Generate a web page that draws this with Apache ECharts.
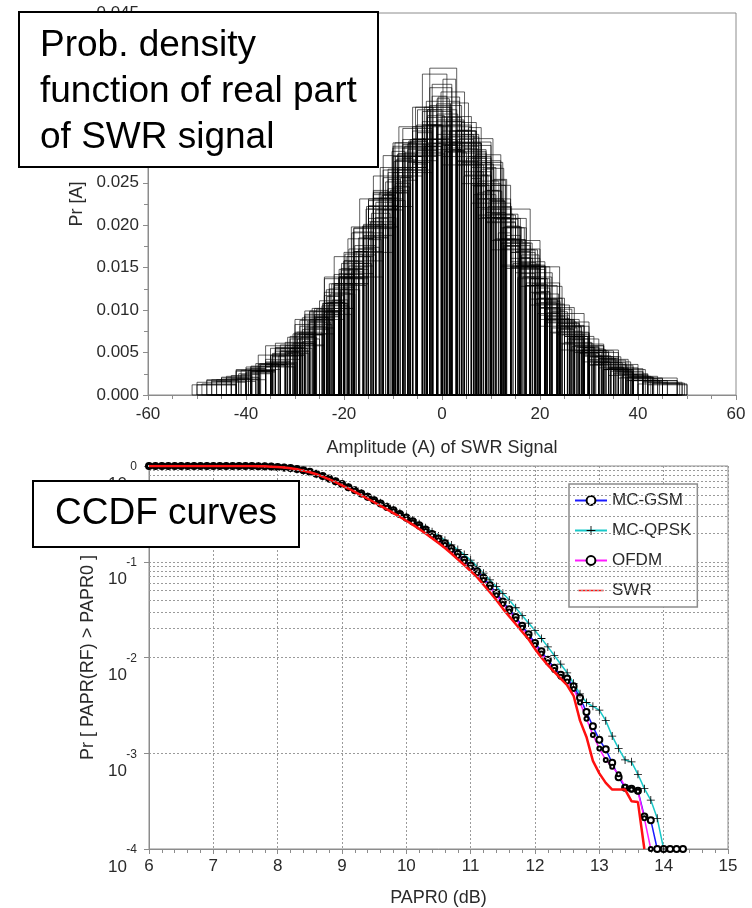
<!DOCTYPE html>
<html>
<head>
<meta charset="utf-8">
<script src="https://cdn.jsdelivr.net/npm/echarts@6/dist/echarts.min.js"></script>
<style>
  html, body { margin: 0; padding: 0; background: #fff; }
  #chart { width: 752px; height: 908px; }
</style>
</head>
<body>
<div id="chart"></div>
<script>
// ---------- Histograms of the real part of the SWR signal ----------
// Each histogram: first bin edge, bin width, bar heights (density).
const binStarts = [-46, -50, -40, -44, -36, -42, -48, -34, -51, -38, -30, -45, -26, -47, -28, -41, -33, -20, -50, -37,
                   -43, -39, -32, -49, -24, -45, -35, -37.5, -47, -29, -41, -48,
                   -36, -27, -44, -31, -40, -22, -46, -35];
const binWidths = [6, 8, 4, 5, 7, 3, 6.5, 4.5, 9, 3.5, 5.5, 7.5, 2.5, 4, 8, 5, 6, 3, 10, 5.5,
                   4.2, 6, 3.2, 7, 2, 5.5, 8.5, 2.8, 9.5, 4.8, 3.8, 12,
                   4.4, 3.6, 6.8, 2.6, 5.2, 4, 8, 3];
const binHeights = [
  [0.0018,0.0027,0.0056,0.0079,0.0142,0.0188,0.0281,0.0334,0.0297,0.0209,0.0161,0.0094,0.0066,0.0032,0.0022],
  [0.0012,0.0029,0.0061,0.0102,0.0196,0.0262,0.0318,0.0226,0.0151,0.0074,0.0042,0.0017],
  [0.0031,0.0036,0.0062,0.0071,0.0117,0.0138,0.0199,0.0222,0.0291,0.0318,0.0289,0.0297,0.0219,0.0179,0.0154,0.0102,0.0084,0.0049,0.0043,0.0024],
  [0.0022,0.0028,0.0053,0.0071,0.0121,0.0152,0.0232,0.0258,0.0378,0.0291,0.0268,0.0184,0.0148,0.0090,0.0069,0.0038,0.0028,0.0015],
  [0.0042,0.0088,0.0131,0.0231,0.0301,0.0316,0.0247,0.0149,0.0103,0.0050,0.0031],
  [0.0019,0.0031,0.0034,0.0055,0.0058,0.0089,0.0097,0.0139,0.0151,0.0204,0.0218,0.0279,0.0272,0.0336,0.0295,0.0312,0.0249,0.0241,0.0184,0.0169,0.0121,0.0112,0.0077,0.0069,0.0045,0.0040,0.0026,0.0024],
  [0.0017,0.0025,0.0046,0.0091,0.0129,0.0219,0.0265,0.0341,0.0272,0.0183,0.0129,0.0071,0.0045,0.0021,0.0014],
  [0.0051,0.0066,0.0111,0.0137,0.0201,0.0251,0.0274,0.0362,0.0305,0.0236,0.0207,0.0139,0.0114,0.0071,0.0053,0.0031],
  [0.0012,0.0030,0.0059,0.0137,0.0222,0.0301,0.0276,0.0153,0.0086,0.0035,0.0017],
  [0.0028,0.0048,0.0055,0.0087,0.0099,0.0147,0.0165,0.0227,0.0245,0.0301,0.0329,0.0287,0.0293,0.0231,0.0213,0.0155,0.0137,0.0093,0.0080,0.0050,0.0043,0.0027],
  [0.0074,0.0105,0.0172,0.0218,0.0295,0.0385,0.0271,0.0231,0.0150,0.0114,0.0062,0.0045],
  [0.0021,0.0036,0.0083,0.0131,0.0229,0.0286,0.0304,0.0212,0.0144,0.0073,0.0041,0.0019],
  [0.0093,0.0099,0.0138,0.0145,0.0187,0.0199,0.0254,0.0256,0.0302,0.0293,0.0349,0.0296,0.0307,0.0246,0.0241,0.0191,0.0181,0.0139,0.0130,0.0097,0.0089,0.0065],
  [0.0016,0.0019,0.0033,0.0040,0.0066,0.0079,0.0125,0.0148,0.0208,0.0239,0.0296,0.0327,0.0286,0.0279,0.0215,0.0183,0.0129,0.0107,0.0069,0.0055,0.0033,0.0027,0.0016,0.0013],
  [0.0099,0.0158,0.0265,0.0322,0.0249,0.0172,0.0089,0.0050],
  [0.0029,0.0039,0.0069,0.0092,0.0148,0.0185,0.0266,0.0316,0.0298,0.0285,0.0209,0.0168,0.0108,0.0081,0.0046,0.0033,0.0019],
  [0.0052,0.0099,0.0139,0.0223,0.0268,0.0336,0.0287,0.0203,0.0151,0.0089,0.0058,0.0030],
  [0.0131,0.0172,0.0186,0.0243,0.0253,0.0314,0.0301,0.0327,0.0274,0.0263,0.0209,0.0188,0.0143,0.0126],
  [0.0015,0.0033,0.0089,0.0168,0.0293,0.0281,0.0182,0.0081,0.0036,0.0013],
  [0.0036,0.0068,0.0095,0.0155,0.0201,0.0281,0.0302,0.0311,0.0231,0.0176,0.0113,0.0082,0.0046,0.0032],
  [0.0023,0.0028,0.0049,0.0061,0.0098,0.0119,0.0176,0.0209,0.0277,0.0288,0.0331,0.0275,0.0252,0.0183,0.0152,0.0103,0.0081,0.0050,0.0038,0.0024],
  [0.0034,0.0051,0.0098,0.0139,0.0219,0.0268,0.0297,0.0289,0.0204,0.0152,0.0088,0.0058,0.0030,0.0020],
  [0.0058,0.0068,0.0101,0.0112,0.0157,0.0174,0.0232,0.0249,0.0299,0.0318,0.0294,0.0301,0.0247,0.0229,0.0175,0.0156,0.0113,0.0098,0.0069,0.0056],
  [0.0013,0.0028,0.0047,0.0093,0.0143,0.0238,0.0289,0.0311,0.0221,0.0157,0.0085,0.0052,0.0025,0.0015],
  [0.0108,0.0111,0.0142,0.0149,0.0184,0.0191,0.0236,0.0238,0.0279,0.0274,0.0318,0.0296,0.0328,0.0289,0.0297,0.0255,0.0259,0.0214,0.0208,0.0168,0.0162,0.0129,0.0122,0.0096],
  [0.0020,0.0029,0.0055,0.0077,0.0131,0.0169,0.0256,0.0281,0.0324,0.0258,0.0213,0.0137,0.0101,0.0057,0.0038,0.0021,0.0014],
  [0.0055,0.0102,0.0197,0.0276,0.0307,0.0208,0.0128,0.0060,0.0030],
  [0.0029,0.0045,0.0050,0.0073,0.0081,0.0116,0.0124,0.0169,0.0183,0.0235,0.0246,0.0297,0.0291,0.0343,0.0288,0.0290,0.0238,0.0228,0.0176,0.0161,0.0120,0.0110,0.0078,0.0069,0.0047,0.0042,0.0028],
  [0.0018,0.0047,0.0095,0.0198,0.0284,0.0294,0.0171,0.0096,0.0039,0.0017],
  [0.0081,0.0108,0.0163,0.0204,0.0275,0.0293,0.0357,0.0259,0.0222,0.0152,0.0119,0.0075,0.0053],
  [0.0024,0.0037,0.0046,0.0074,0.0089,0.0131,0.0155,0.0214,0.0241,0.0299,0.0296,0.0322,0.0263,0.0240,0.0179,0.0153,0.0107,0.0086,0.0056,0.0045,0.0029,0.0022],
  [0.0018,0.0058,0.0139,0.0282,0.0271,0.0151,0.0053,0.0020],
  [0.0038,0.0049,0.0086,0.0119,0.0191,0.0236,0.0297,0.0318,0.0351,0.0296,0.0274,0.0197,0.0151,0.0092,0.0066,0.0039,0.0028],
  [0.0085,0.0109,0.0166,0.0199,0.0268,0.0284,0.0339,0.0317,0.0344,0.0281,0.0267,0.0198,0.0165,0.0109,0.0084],
  [0.0020,0.0034,0.0072,0.0124,0.0231,0.0291,0.0346,0.0302,0.0208,0.0132,0.0061,0.0036,0.0017],
  [0.0055,0.0063,0.0091,0.0106,0.0149,0.0169,0.0222,0.0238,0.0287,0.0293,0.0336,0.0318,0.0372,0.0311,0.0315,0.0266,0.0254,0.0199,0.0179,0.0131,0.0112,0.0079,0.0068,0.0048],
  [0.0026,0.0038,0.0071,0.0108,0.0184,0.0239,0.0316,0.0339,0.0311,0.0283,0.0197,0.0139,0.0079,0.0052,0.0030,0.0021],
  [0.0127,0.0192,0.0231,0.0297,0.0311,0.0366,0.0328,0.0279,0.0247,0.0179,0.0137],
  [0.0016,0.0037,0.0072,0.0163,0.0258,0.0339,0.0298,0.0219,0.0106,0.0052,0.0023,0.0012],
  [0.0035,0.0051,0.0061,0.0091,0.0109,0.0158,0.0185,0.0241,0.0262,0.0314,0.0309,0.0352,0.0318,0.0321,0.0274,0.0253,0.0198,0.0171,0.0121,0.0099,0.0069,0.0056,0.0039,0.0032]
];

// ---------- CCDF of PAPR ----------
const paprDb = [
  6.0,6.1,6.2,6.3,6.4,6.5,6.6,6.7,6.8,6.9,
  7.0,7.1,7.2,7.3,7.4,7.5,7.6,7.7,7.8,7.9,
  8.0,8.1,8.2,8.3,8.4,8.5,8.6,8.7,8.8,8.9,
  9.0,9.1,9.2,9.3,9.4,9.5,9.6,9.7,9.8,9.9,
  10.0,10.1,10.2,10.3,10.4,10.5,10.6,10.7,10.8,10.9,
  11.0,11.1,11.2,11.3,11.4,11.5,11.6,11.7,11.8,11.9,
  12.0,12.1,12.2,12.3,12.4,12.5,12.6,12.7,12.8,12.9,
  13.0,13.1,13.2,13.3,13.4,13.5,13.6,13.7,13.8,13.9,
  14.0,14.1,14.2,14.3
];
const ccdfMcGsm = [
  1,1,1,1,1,1,1,1,1,1,1,1,1,1,1,1,1, 0.996,0.992,0.986,
  0.978,0.967,0.952,0.931,0.903,0.871,0.832,0.787,0.740,0.694,
  0.647,0.601,0.557,0.515,0.476,0.440,0.406,0.374,0.344,0.316,
  0.290,0.265,0.240,0.217,0.195,0.175,0.156,0.138,0.121,0.105,
  0.0915,0.0795,0.0680,0.0568,0.0473,0.0385,0.0320,0.0265,0.0215,0.0175,
  0.0142,0.0116,0.00945,0.00780,0.00660,0.00603,0.00501,0.00380,0.00269,0.00191,
  0.00138,0.00110,0.000794,0.000562,0.000437,0.000427,0.000407,0.000219,0.000200,0.0001,
  0.0001,0.0001,0.0001,0.0001
];
const ccdfMcQpsk = [
  1,1,1,1,1,1,1,1,1,1,1,1,1,1,1,1,1, 0.995,0.990,0.983,
  0.973,0.961,0.944,0.922,0.892,0.860,0.822,0.778,0.733,0.689,
  0.644,0.600,0.558,0.518,0.480,0.445,0.412,0.381,0.352,0.324,
  0.298,0.273,0.249,0.227,0.206,0.186,0.168,0.150,0.134,0.119,
  0.104,0.0891,0.0759,0.0646,0.0550,0.0468,0.0398,0.0331,0.0275,0.0229,
  0.0191,0.0158,0.0129,0.0105,0.00851,0.00692,0.00537,0.00417,0.00339,0.00309,
  0.00282,0.00219,0.00151,0.00112,0.000851,0.000813,0.000603,0.000427,0.000324,0.000209,
  0.0001
];
const ccdfOfdm = [
  1,1,1,1,1,1,1,1,1,1,1,1,1,1,1,1,1, 0.995,0.991,0.984,
  0.975,0.964,0.948,0.927,0.897,0.865,0.826,0.780,0.733,0.687,
  0.640,0.594,0.550,0.507,0.468,0.432,0.398,0.366,0.336,0.308,
  0.282,0.257,0.232,0.209,0.188,0.168,0.150,0.132,0.115,0.100,
  0.0871,0.0759,0.0646,0.0537,0.0447,0.0363,0.0302,0.0251,0.0204,0.0166,
  0.0135,0.0110,0.00891,0.00741,0.00631,0.00562,0.00468,0.00339,0.00229,0.00155,
  0.00112,0.000851,0.000724,0.000603,0.000447,0.000417,0.000398,0.000209,0.0001
];
const ccdfSwr = [
  1,1,1,1,1,1,1,1,1,1,1,1,1,1,1,1,1, 0.996,0.992,0.985,
  0.976,0.964,0.947,0.925,0.894,0.860,0.820,0.773,0.724,0.677,
  0.628,0.582,0.537,0.494,0.455,0.418,0.384,0.352,0.322,0.294,
  0.268,0.244,0.220,0.197,0.176,0.157,0.139,0.122,0.106,0.0925,
  0.0800,0.0690,0.0575,0.0480,0.0398,0.0324,0.0269,0.0224,0.0186,0.0155,
  0.0123,0.0100,0.00832,0.00708,0.00603,0.00513,0.00398,0.00219,0.00148,0.000832,
  0.000617,0.000490,0.000417,0.000417,0.000417,0.000316,0.000309,0.0001
];
// intermediate log-grid levels (2..9 x 10^k)
const minorGridValues = [
  0.0002,0.0003,0.0004,0.0005,0.0006,0.0007,0.0008,0.0009,
  0.002,0.003,0.004,0.005,0.006,0.007,0.008,0.009,
  0.02,0.03,0.04,0.05,0.06,0.07,0.08,0.09,
  0.2,0.3,0.4,0.5,0.6,0.7,0.8,0.9
];

// ---------- styling ----------
const FONT = "'Liberation Sans', Arial, Helvetica, sans-serif";
const AXIS_GREY = '#8c8c8c';
const LABEL = '#2a2a2a';
const GRID_DOT = { color: '#9a9a9a', width: 1, type: [2, 2] };
const PLUS_SYMBOL = 'path://M0,4.5H10V5.5H0Z M4.5,0H5.5V10H4.5Z';
const LINE_ONLY_ICON = 'path://M0,6.1H32V7.9H0Z M0,0H0.01V14H0Z';
const NAME_STYLE = { fontSize: 18, color: LABEL, fontFamily: FONT };

const histRects = [];
binStarts.forEach((start, k) => {
  const w = binWidths[k];
  binHeights[k].forEach((h, i) => {
    histRects.push([start + i * w, start + (i + 1) * w, h]);
  });
});

const pairs = arr => arr.map((v, i) => [paprDb[i], v]);

const chart = echarts.init(document.getElementById('chart'), null, { renderer: 'canvas' });

chart.setOption({
  animation: false,
  backgroundColor: '#fff',
  textStyle: { fontFamily: FONT },
  grid: [
    { left: 148, right: 16, top: 13, bottom: 513, show: true, borderColor: AXIS_GREY, borderWidth: 1, backgroundColor: 'transparent' },
    { left: 149, right: 24, top: 466, bottom: 59, show: true, borderColor: AXIS_GREY, borderWidth: 1, backgroundColor: 'transparent' }
  ],
  xAxis: [
    {
      gridIndex: 0, type: 'value', min: -60, max: 60, interval: 20,
      name: 'Amplitude (A) of SWR Signal', nameLocation: 'middle', nameGap: 44,
      nameTextStyle: NAME_STYLE,
      axisLine: { onZero: false, lineStyle: { color: AXIS_GREY } },
      axisTick: { length: 5, lineStyle: { color: AXIS_GREY } },
      minorTick: { show: true, splitNumber: 4, length: 4, lineStyle: { color: AXIS_GREY } },
      axisLabel: { fontSize: 17, color: LABEL, margin: 11, fontFamily: FONT },
      splitLine: { show: false }
    },
    {
      gridIndex: 1, type: 'value', min: 6, max: 15, interval: 1,
      name: 'PAPR0 (dB)', nameLocation: 'middle', nameGap: 40,
      nameTextStyle: NAME_STYLE,
      axisLine: { onZero: false, lineStyle: { color: AXIS_GREY } },
      axisTick: { length: 5, lineStyle: { color: AXIS_GREY } },
      minorTick: { show: true, splitNumber: 5, length: 4, lineStyle: { color: AXIS_GREY } },
      axisLabel: { fontSize: 17, color: LABEL, margin: 9, fontFamily: FONT },
      splitLine: { show: true, lineStyle: GRID_DOT }
    }
  ],
  yAxis: [
    {
      gridIndex: 0, type: 'value', min: 0, max: 0.045, interval: 0.005,
      name: 'Pr [A]', nameLocation: 'middle', nameGap: 62,
      nameTextStyle: NAME_STYLE,
      axisLine: { show: true, onZero: false, lineStyle: { color: AXIS_GREY } },
      axisTick: { show: true, length: 5, lineStyle: { color: AXIS_GREY } },
      minorTick: { show: true, splitNumber: 2, length: 4, lineStyle: { color: AXIS_GREY } },
      axisLabel: { fontSize: 17, color: LABEL, margin: 9, fontFamily: FONT, formatter: v => v.toFixed(3) },
      splitLine: { show: false }
    },
    {
      gridIndex: 1, type: 'log', logBase: 10, min: 0.0001, max: 1, splitNumber: 4,
      name: 'Pr [ PAPR(RF) > PAPR0 ]', nameLocation: 'middle', nameGap: 52,
      nameTextStyle: NAME_STYLE,
      axisLine: { show: true, onZero: false, lineStyle: { color: AXIS_GREY } },
      axisTick: { show: true, length: 5, lineStyle: { color: AXIS_GREY } },
      axisLabel: {
        color: LABEL, margin: 12, align: 'right', verticalAlign: 'top', fontFamily: FONT,
        formatter: v => '{e|' + Math.round(Math.log10(v)) + '}\n{b|10}',
        rich: {
          e: { fontSize: 12, lineHeight: 2, color: LABEL, fontFamily: FONT },
          b: { fontSize: 17, lineHeight: 32, color: LABEL, fontFamily: FONT, padding: [0, 10, 0, 0] }
        }
      },
      splitLine: { show: true, lineStyle: GRID_DOT }
    }
  ],
  legend: {
    data: [
      { name: 'MC-GSM' }, { name: 'MC-QPSK' }, { name: 'OFDM' },
      { name: 'SWR', icon: LINE_ONLY_ICON }
    ],
    orient: 'vertical', left: 569, top: 484,
    padding: [8, 6, 8, 5], itemGap: 13, itemWidth: 32, itemHeight: 11,
    backgroundColor: '#fff', borderColor: AXIS_GREY, borderWidth: 1.5, borderRadius: 0,
    selectedMode: false,
    textStyle: { fontSize: 17, color: LABEL, fontFamily: FONT }
  },
  series: [
    {
      type: 'custom', xAxisIndex: 0, yAxisIndex: 0,
      data: histRects,
      encode: { x: [0, 1], y: 2 },
      renderItem: (params, api) => {
        const p0 = api.coord([api.value(0), api.value(2)]);
        const p1 = api.coord([api.value(1), 0]);
        return {
          type: 'rect',
          shape: { x: p0[0], y: p0[1], width: p1[0] - p0[0], height: p1[1] - p0[1] },
          style: { fill: 'none', stroke: 'rgba(0,0,0,0.62)', lineWidth: 1 }
        };
      }
    },
    {
      name: 'logGrid', type: 'line', xAxisIndex: 1, yAxisIndex: 1, data: [], z: 1,
      markLine: {
        silent: true, symbol: ['none', 'none'], label: { show: false },
        lineStyle: GRID_DOT, animation: false,
        data: minorGridValues.map(v => ({ yAxis: v }))
      }
    },
    {
      name: 'MC-GSM', type: 'line', xAxisIndex: 1, yAxisIndex: 1, data: pairs(ccdfMcGsm),
      symbol: 'emptyCircle', symbolSize: 6, showAllSymbol: true, z: 3,
      lineStyle: { color: '#1a1aff', width: 1.5 },
      itemStyle: { color: '#000', borderColor: '#000', borderWidth: 1 }
    },
    {
      name: 'MC-QPSK', type: 'line', xAxisIndex: 1, yAxisIndex: 1, data: pairs(ccdfMcQpsk),
      symbol: PLUS_SYMBOL, symbolSize: 8, showAllSymbol: true, z: 3,
      lineStyle: { color: '#19c8c8', width: 1.5 },
      itemStyle: { color: '#000' }
    },
    {
      name: 'OFDM', type: 'line', xAxisIndex: 1, yAxisIndex: 1, data: pairs(ccdfOfdm),
      symbol: 'emptyCircle', symbolSize: 4, showAllSymbol: true, z: 3,
      lineStyle: { color: '#ff1aff', width: 1.5 },
      itemStyle: { color: '#000', borderColor: '#000', borderWidth: 1 }
    },
    {
      name: 'SWR', type: 'line', xAxisIndex: 1, yAxisIndex: 1, data: pairs(ccdfSwr),
      symbol: 'none', showSymbol: false, z: 4,
      lineStyle: { color: '#ff1010', width: 2.5 },
      itemStyle: { color: '#ff1010' }
    }
  ],
  graphic: [
    {
      type: 'rect', z: 100,
      shape: { x: 19, y: 12, width: 359, height: 155 },
      style: { fill: '#fff', stroke: '#000', lineWidth: 2 }
    },
    {
      type: 'text', z: 101, x: 40, y: 23,
      style: {
        text: 'Prob. density\nfunction of real part\nof SWR signal',
        fontSize: 37, fontFamily: FONT, lineHeight: 46,
        fill: '#000', verticalAlign: 'top', align: 'left'
      }
    },
    {
      type: 'rect', z: 100,
      shape: { x: 33, y: 481, width: 266, height: 66 },
      style: { fill: '#fff', stroke: '#000', lineWidth: 2 }
    },
    {
      type: 'text', z: 101, x: 166, y: 514,
      style: {
        text: 'CCDF curves',
        fontSize: 37, fontFamily: FONT,
        fill: '#000', verticalAlign: 'middle', align: 'center'
      }
    }
  ]
});
</script>
</body>
</html>
